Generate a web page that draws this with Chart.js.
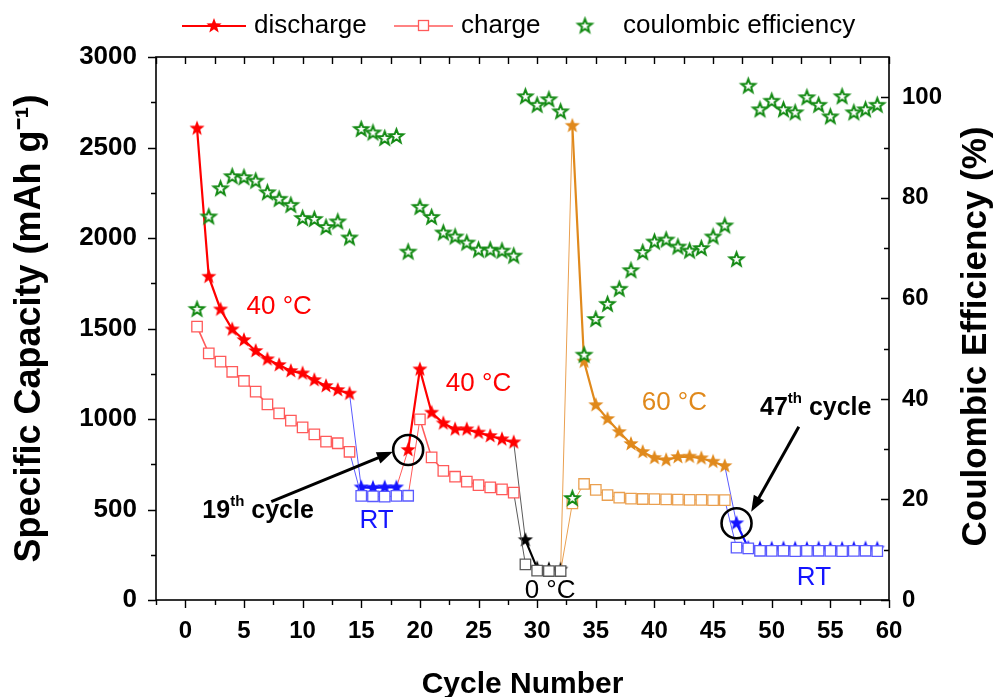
<!DOCTYPE html>
<html><head><meta charset="utf-8">
<script src="https://cdn.jsdelivr.net/npm/chart.js@4.4.1/dist/chart.umd.min.js"></script>
<style>html,body{margin:0;padding:0;background:#fff;}canvas{display:block;}</style>
</head><body>
<canvas id="c" width="994" height="697" style="width:994px;height:697px"></canvas>
<script>
// ---------- data ----------
const cycles = [1,2,3,4,5,6,7,8,9,10,11,12,13,14,15,16,17,18,19,20,21,22,23,24,25,26,27,28,29,30,31,32,33,34,35,36,37,38,39,40,41,42,43,44,45,46,47,48,49,50,51,52,53,54,55,56,57,58,59];
const discharge = [2605,1786,1605,1495,1436,1376,1330,1298,1265,1252,1215,1182,1160,1140,
  622,620,622,622,829,1274,1035,976,943,943,925,906,888,871,
  331,175,170,168,2620,1317,1077,1000,928,862,818,785,773,790,792,783,764,740,
  424,288,285,284,285,284,283,285,284,283,284,285,284];
const charge = [1510,1363,1317,1261,1210,1151,1081,1031,991,954,915,875,866,819,
  575,573,571,575,576,998,788,713,681,654,635,622,611,593,
  197,162,160,160,534,641,608,580,565,560,558,557,556,555,553,553,552,552,
  289,285,272,271,272,270,271,272,271,270,271,272,270];
const efficiency = [57.8,76.2,81.8,84.2,84.0,83.3,81.0,79.7,78.5,75.9,75.7,74.1,75.2,72.0,
  93.6,92.9,91.8,92.2,69.2,78.1,76.1,73.0,72.2,71.0,69.6,69.6,69.4,68.4,
  100.1,98.4,99.5,97.1,20.2,48.7,55.8,58.8,61.8,65.5,69.1,71.2,71.6,70.2,69.4,69.9,72.2,74.4,
  67.7,102.2,97.5,99.2,97.5,96.9,99.9,98.4,96.1,100.1,96.9,97.5,98.4];
const xTickLabels = [0,5,10,15,20,25,30,35,40,45,50,55,60];
const capacityTickLabels = [0,500,1000,1500,2000,2500,3000];
const efficiencyTickLabels = [0,20,40,60,80,100];
// test condition of each cycle range: [first cycle, last cycle, condition]
const dischargeConditions = [[1,14,'40 °C'],[15,18,'RT'],[19,28,'40 °C'],[29,32,'0 °C'],[33,46,'60 °C'],[47,59,'RT']];
const chargeConditions    = [[1,14,'40 °C'],[15,19,'RT'],[20,28,'40 °C'],[29,32,'0 °C'],[33,46,'60 °C'],[47,59,'RT']];
const seriesNames = ['discharge','charge','coulombic efficiency'];

// ---------- styles ----------
const FONT = "'Liberation Sans', Arial, sans-serif";
const condColor = {'40 °C':'#ff0000','RT':'#1414ff','0 °C':'#000000','60 °C':'#e0891c'};
const condColorLight = {'40 °C':'#ff5a5a','RT':'#5a5aff','0 °C':'#5a5a5a','60 °C':'#eaa050'};
const GREEN = '#138a13';
function condOf(table, cyc){ for (const [a,b,c] of table) if (cyc>=a && cyc<=b) return c; return 'RT'; }

function starCanvas(fill, stroke, R, lw){
  const size = Math.ceil(2*R + lw + 4);
  const c = document.createElement('canvas'); c.width = size; c.height = size;
  const g = c.getContext('2d');
  g.translate(size/2, size/2);
  g.beginPath();
  for (let k=0;k<10;k++){ const r = k%2===0 ? R : R*0.42; const a = -Math.PI/2 + k*Math.PI/5; g.lineTo(r*Math.cos(a), r*Math.sin(a)); }
  g.closePath();
  if (fill){ g.fillStyle = fill; g.fill(); }
  if (stroke){ g.lineWidth = lw; g.strokeStyle = stroke; g.lineJoin='miter'; g.stroke(); }
  return c;
}
const filledStars = {};
for (const k in condColor) filledStars[k] = starCanvas(condColor[k], null, 8, 0);
const greenStar = starCanvas('#ffffff', GREEN, 7.2, 2);

const dCond = cycles.map(c => condOf(dischargeConditions, c));
const cCond = cycles.map(c => condOf(chargeConditions, c));

const toXY = arr => cycles.map((c,i) => ({x:c, y:arr[i]}));

const data = {
  datasets: [
    { label: seriesNames[2], data: toXY(efficiency), yAxisID:'y2', showLine:false, order:0,
      pointStyle: greenStar, pointRadius:7, borderColor:GREEN, backgroundColor:GREEN },
    { label: seriesNames[1], data: toXY(charge), yAxisID:'y', order:1,
      pointStyle:'rect', pointRadius:7.4, pointBorderWidth:1.3,
      pointBackgroundColor:'#ffffff',
      pointBorderColor: ctx => condColorLight[cCond[ctx.dataIndex]],
      borderColor:'#ff5a5a', borderWidth:1.3,
      segment:{
        borderColor: ctx => condColorLight[cCond[ctx.p1DataIndex]],
        borderWidth: ctx => (cCond[ctx.p0DataIndex]===cCond[ctx.p1DataIndex] && cCond[ctx.p1DataIndex]==='40 °C') ? 1.6 : 1
      } },
    { label: seriesNames[0], data: toXY(discharge), yAxisID:'y', order:2,
      pointStyle: ctx => filledStars[dCond[ctx.dataIndex]], pointRadius:7,
      borderColor:'#ff0000', borderWidth:2,
      segment:{
        borderColor: ctx => {
          const same = dCond[ctx.p0DataIndex]===dCond[ctx.p1DataIndex];
          return same ? condColor[dCond[ctx.p1DataIndex]] : condColorLight[dCond[ctx.p1DataIndex]];
        },
        borderWidth: ctx => dCond[ctx.p0DataIndex]===dCond[ctx.p1DataIndex] ? 2.2 : 1
      } }
  ]
};

// ---------- custom drawing: frame, ticks, legend, annotations ----------
const decorPlugin = {
  id:'decor',
  afterDraw(chart){
    const {ctx, chartArea:a, scales:{x,y,y2}} = chart;
    ctx.save();
    ctx.strokeStyle = '#000'; ctx.lineWidth = 1.6;
    ctx.strokeRect(a.left, a.top, a.right-a.left, a.bottom-a.top);
    ctx.lineWidth = 1.4;
    ctx.beginPath();
    for (let v=-2.5; v<=60.001; v+=2.5){
      const px = Math.round(x.getPixelForValue(v))+0.5;
      const major = Math.abs(v % 5) < 1e-6;
      const L = major ? 8 : 5;
      ctx.moveTo(px, a.bottom); ctx.lineTo(px, a.bottom + L);
      ctx.moveTo(px, a.top); ctx.lineTo(px, a.top + 7);
    }
    for (let v=0; v<=3000; v+=250){
      const py = Math.round(y.getPixelForValue(v))+0.5;
      const L = (v % 500 === 0) ? 8 : 5;
      ctx.moveTo(a.left, py); ctx.lineTo(a.left - L, py);
    }
    for (let v=0; v<=100; v+=10){
      const py = Math.round(y2.getPixelForValue(v))+0.5;
      const L = (v % 20 === 0) ? 8 : 5;
      ctx.moveTo(a.right, py); ctx.lineTo(a.right - L, py);
    }
    ctx.stroke();

    // right axis title (reads bottom-to-top)
    ctx.save();
    ctx.translate(976, (a.top+a.bottom)/2 + 8);
    ctx.rotate(-Math.PI/2);
    ctx.font = `bold 35px ${FONT}`; ctx.fillStyle='#000'; ctx.textAlign='center'; ctx.textBaseline='middle';
    ctx.fillText('Coulombic Efficiency (%)', 0, 0);
    ctx.restore();

    // legend
    const ly = 26;
    ctx.font = `26px ${FONT}`; ctx.fillStyle='#000'; ctx.textBaseline='middle'; ctx.textAlign='left';
    ctx.strokeStyle = '#ff0000'; ctx.lineWidth = 2;
    ctx.beginPath(); ctx.moveTo(182, ly); ctx.lineTo(246, ly); ctx.stroke();
    const st = filledStars['40 °C']; ctx.drawImage(st, 214 - st.width/2, ly - st.height/2);
    ctx.fillText(seriesNames[0], 254, ly);
    ctx.strokeStyle = '#ff5a5a'; ctx.lineWidth = 1.6;
    ctx.beginPath(); ctx.moveTo(394, ly); ctx.lineTo(453, ly); ctx.stroke();
    ctx.fillStyle='#fff'; ctx.fillRect(418, ly-5, 10, 10);
    ctx.lineWidth = 1.3; ctx.strokeRect(418.5, ly-5.5, 10, 10);
    ctx.fillStyle='#000';
    ctx.fillText(seriesNames[1], 461, ly);
    ctx.drawImage(greenStar, 585 - greenStar.width/2, ly - greenStar.height/2);
    ctx.fillText(seriesNames[2], 623, ly);

    // condition labels
    const P = (vx, vy) => [x.getPixelForValue(vx), y.getPixelForValue(vy)];
    const label = (t, vx, vy, col) => { const [px,py] = P(vx,vy); ctx.fillStyle = col; ctx.font = `26px ${FONT}`; ctx.textAlign='center'; ctx.textBaseline='middle'; ctx.fillText(t, px, py); };
    label('40 °C', 8.0, 1620, condColor['40 °C']);
    label('40 °C', 25.0, 1193, condColor['40 °C']);
    label('RT', 16.3, 439, condColor['RT']);
    label('0 °C', 31.1, 50, '#000');
    label('60 °C', 41.7, 1088, condColor['60 °C']);
    label('RT', 53.6, 124, condColor['RT']);

    // "Nth cycle" annotations
    const ordinal = (n, vx, vy) => {
      let [px,py] = P(vx,vy);
      ctx.fillStyle='#000'; ctx.textAlign='left'; ctx.textBaseline='alphabetic';
      ctx.font = `bold 25px ${FONT}`; ctx.fillText(String(n), px, py); px += ctx.measureText(String(n)).width;
      ctx.font = `bold 15px ${FONT}`; ctx.fillText('th', px, py - 12); px += ctx.measureText('th').width;
      ctx.font = `bold 25px ${FONT}`; ctx.fillText(' cycle', px, py);
    };
    ordinal(19, 1.45, 451);
    ordinal(47, 49.0, 1022);

    const arrow = (x0,y0,x1,y1) => {
      const [ax,ay] = P(x0,y0), [bx,by] = P(x1,y1);
      const ang = Math.atan2(by-ay, bx-ax), hl = 16, hw = 6;
      ctx.strokeStyle='#000'; ctx.lineWidth = 3;
      ctx.beginPath(); ctx.moveTo(ax,ay); ctx.lineTo(bx - hl*0.8*Math.cos(ang), by - hl*0.8*Math.sin(ang)); ctx.stroke();
      ctx.fillStyle='#000'; ctx.beginPath();
      ctx.moveTo(bx,by);
      ctx.lineTo(bx - hl*Math.cos(ang) + hw*Math.sin(ang), by - hl*Math.sin(ang) - hw*Math.cos(ang));
      ctx.lineTo(bx - hl*Math.cos(ang) - hw*Math.sin(ang), by - hl*Math.sin(ang) + hw*Math.cos(ang));
      ctx.closePath(); ctx.fill();
    };
    arrow(7.33, 543, 17.7, 819);
    arrow(52.31, 957, 48.25, 488);

    const circ = idx => {
      const px = x.getPixelForValue(cycles[idx]), py = y.getPixelForValue(discharge[idx]);
      ctx.strokeStyle='#000'; ctx.lineWidth = 2.6;
      ctx.beginPath(); ctx.arc(px, py, 15, 0, Math.PI*2); ctx.stroke();
    };
    circ(cycles.indexOf(19));
    circ(cycles.indexOf(47));
    ctx.restore();
  }
};

const tickFont = {family: FONT, size: 24, weight:'bold'};
new Chart(document.getElementById('c'), {
  type:'line',
  data,
  options:{
    responsive:false, animation:false, devicePixelRatio:1,
    layout:{padding:{top:57, left:0, right:0, bottom:0}},
    plugins:{legend:{display:false}, tooltip:{enabled:false}},
    elements:{line:{tension:0}},
    scales:{
      x:{ type:'linear', min:-2.5, max:60, position:'bottom',
        grid:{display:false, drawTicks:false}, border:{display:false},
        ticks:{ stepSize:5, includeBounds:false, autoSkip:false, maxRotation:0, padding:17, color:'#000', font:tickFont,
          callback: v => xTickLabels.includes(v) ? String(v) : '' },
        title:{display:true, text:'Cycle Number', color:'#000', font:{family:FONT, size:30, weight:'bold', lineHeight:1}, padding:{top:0,bottom:-3}},
        afterFit: s => { s.height = 97; } },
      y:{ type:'linear', position:'left', min:0, max:3000,
        grid:{display:false, drawTicks:false}, border:{display:false},
        ticks:{ stepSize:500, padding:19, color:'#000', font:{family:FONT, size:26, weight:'bold'},
          callback: v => capacityTickLabels.includes(v) ? String(v) : '' },
        title:{display:true, text:'Specific Capacity (mAh g\u207B\u00B9)', color:'#000', font:{family:FONT, size:36, weight:'bold', lineHeight:1.0}, padding:{top:12}},
        afterFit: s => { s.width = 156; } },
      y2:{ type:'linear', position:'right', min:0, max:108,
        grid:{display:false, drawTicks:false}, border:{display:false},
        ticks:{ stepSize:20, includeBounds:false, padding:13, color:'#000', font:tickFont,
          callback: v => efficiencyTickLabels.includes(v) ? String(v) : '' },
        afterFit: s => { s.width = 105; } }
    }
  },
  plugins:[decorPlugin]
});
</script>
</body></html>
